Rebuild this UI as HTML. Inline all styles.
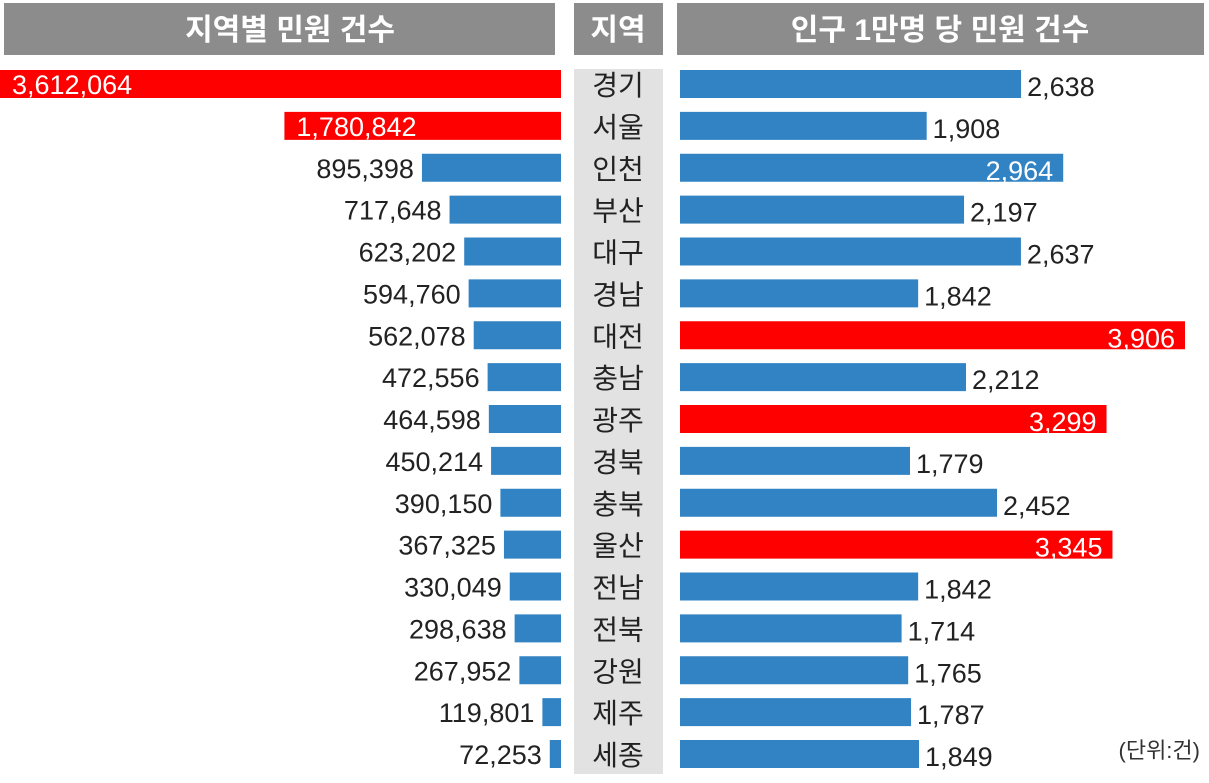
<!DOCTYPE html>
<html><head><meta charset="utf-8"><style>
body{margin:0;background:#fff;width:1209px;height:778px;overflow:hidden}
text{font-family:"Liberation Sans","Noto Sans CJK KR",sans-serif}
</style></head><body>
<svg id="c" width="1209" height="778">
<rect x="4" y="3" width="551" height="52" fill="#8c8c8c"/>
<text x="290" y="40" text-anchor="middle" font-size="30" font-weight="bold" fill="#fff">지역별 민원 건수</text>
<rect x="574" y="3" width="89" height="52" fill="#8c8c8c"/>
<text x="618" y="40" text-anchor="middle" font-size="30" font-weight="bold" fill="#fff">지역</text>
<rect x="677" y="3" width="527" height="52" fill="#8c8c8c"/>
<text x="940" y="40" text-anchor="middle" font-size="30" font-weight="bold" fill="#fff">인구 1만명 당 민원 건수</text>
<rect x="574" y="69" width="89" height="705" fill="#e2e2e2"/>
<text x="1200" y="758" text-anchor="end" font-size="22" fill="#333">(단위:건)</text>
<g id="g"></g>
</svg>
<script>
const regions=["경기","서울","인천","부산","대구","경남","대전","충남","광주","경북","충북","울산","전남","전북","강원","제주","세종"];
const totals=[3612064,1780842,895398,717648,623202,594760,562078,472556,464598,450214,390150,367325,330049,298638,267952,119801,72253];
const perCapita=[2638,1908,2964,2197,2637,1842,3906,2212,3299,1779,2452,3345,1842,1714,1765,1787,1849];
const leftRed=[0,1];
const rightRed=[6,8,11];
const rightInside=[2,6,8,11];
const NS="http://www.w3.org/2000/svg";
const g=document.getElementById("g");
const leftX=v=>561-v*561/3612064;
const rightW=v=>v*505/3906;
const rowY=i=>84+i*41.875;
const fmt=v=>v.toLocaleString("en-US");
function mk(tag,attrs,txt){const e=document.createElementNS(NS,tag);for(const k in attrs)e.setAttribute(k,attrs[k]);if(txt!=null)e.textContent=txt;g.appendChild(e);return e;}
regions.forEach((r,i)=>{
  const cy=rowY(i);
  const lx=leftX(totals[i]);const lr=leftRed.includes(i);
  const lb=mk("rect",{x:lx,y:cy-14,width:561-lx,height:28,fill:lr?"#ff0000":"#3283c4"});
  
  
  const lt=mk("text",lr?{x:lx+12,y:cy+10,"font-size":27,fill:"#fff"}:{x:lx-8,y:cy+10,"font-size":27,fill:"#222","text-anchor":"end"},fmt(totals[i]));
  
  
  const rt=mk("text",{x:618,y:cy+11,"font-size":28,fill:"#222","text-anchor":"middle"},r);
  
  
  const w=rightW(perCapita[i]);const rr=rightRed.includes(i);const ins=rightInside.includes(i);
  const rb=mk("rect",{x:680,y:cy-14,width:w,height:28,fill:rr?"#ff0000":"#3283c4"});
  
  
  const pt=mk("text",ins?{x:680+w-10,y:cy+12,"font-size":27,fill:"#fff","text-anchor":"end"}:{x:680+w+6,y:cy+12,"font-size":27,fill:"#222"},fmt(perCapita[i]));
  
  
});
</script>
</body></html>
